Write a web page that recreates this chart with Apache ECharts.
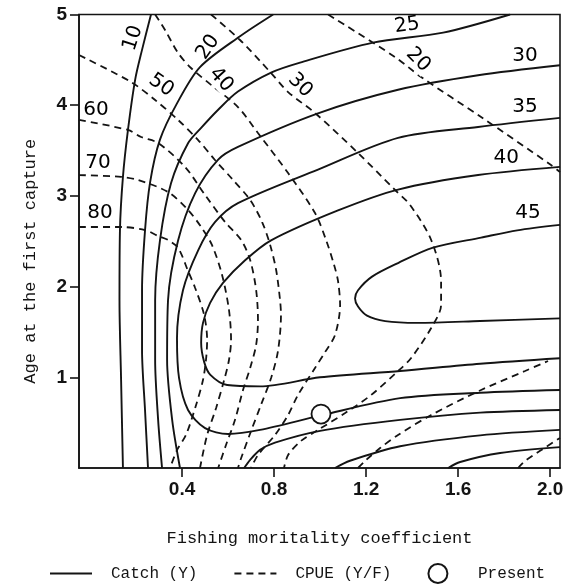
<!DOCTYPE html>
<html><head><meta charset="utf-8">
<script src="https://cdn.jsdelivr.net/npm/echarts@6/dist/echarts.min.js"></script>
<style>html,body{margin:0;padding:0;background:#fff}#c{width:576px;height:584px}</style>
</head><body><div id="c"></div>
<script>
// ---- data: [fishing mortality F, age at first capture] ----
const xTicks = [0.4, 0.8, 1.2, 1.6, 2.0];
const yTicks = [1, 2, 3, 4, 5];

// Catch (Y) isopleths
const catch10 = [[0.265,5.0],[0.226,4.61],[0.196,4.28],[0.165,3.73],[0.143,3.21],[0.130,2.62],[0.128,1.85],[0.135,0.97],[0.143,0]];
const catch20 = [[0.796,5.0],[0.652,4.76],[0.478,4.42],[0.378,4.02],[0.304,3.62],[0.261,3.15],[0.239,2.62],[0.226,1.96],[0.226,1.30],[0.239,0.64],[0.252,0]];
const catch25 = [[1.826,5.0],[1.535,4.80],[1.230,4.69],[0.913,4.47],[0.787,4.36],[0.643,4.15],[0.557,3.95],[0.483,3.75],[0.426,3.58],[0.352,3.14],[0.304,2.51],[0.283,1.85],[0.283,1.19],[0.296,0.53],[0.313,0]];
const catch30 = [[2.043,4.44],[1.687,4.33],[1.339,4.17],[0.991,3.91],[0.643,3.54],[0.557,3.40],[0.457,3.03],[0.383,2.51],[0.339,1.85],[0.335,1.19],[0.357,0.53],[0.391,0]];
const catch35 = [[2.043,3.86],[1.687,3.76],[1.339,3.64],[0.991,3.29],[0.643,2.92],[0.543,2.71],[0.470,2.40],[0.404,1.96],[0.378,1.43],[0.387,0.99],[0.426,0.64],[0.5,0.44],[0.6,0.375],[0.739,0.42],[1.004,0.58],[1.348,0.77],[1.696,0.83],[2.043,0.86]];
const catch40 = [[2.043,3.32],[1.687,3.23],[1.339,3.07],[1.078,2.84],[0.787,2.51],[0.674,2.29],[0.578,2.04],[0.522,1.82],[0.491,1.60],[0.483,1.38],[0.496,1.17],[0.522,1.03],[0.596,0.915],[0.739,0.90],[1.0,1.0],[1.348,1.07],[1.696,1.15],[2.043,1.21]];
const catch45 = [[2.043,2.68],[1.857,2.62],[1.70,2.54],[1.491,2.43],[1.339,2.26],[1.226,2.11],[1.165,1.96],[1.152,1.87],[1.165,1.78],[1.204,1.68],[1.283,1.62],[1.422,1.60],[1.696,1.62],[2.043,1.65]];
const catch30Low = [[0.670,0],[0.696,0.09],[0.739,0.20],[0.804,0.28],[1.0,0.41],[1.348,0.53],[1.696,0.61],[2.043,0.64]];
const catch25Low = [[1.065,0],[1.13,0.08],[1.348,0.24],[1.696,0.36],[2.043,0.42]];
const catch20Low = [[1.557,0],[1.609,0.066],[1.783,0.165],[2.043,0.23]];

// CPUE (Y/F) isopleths
const cpue80 = [[-0.048,2.657],[0.135,2.657],[0.239,2.624],[0.296,2.558],[0.339,2.514],[0.383,2.426],[0.426,2.172],[0.457,1.985],[0.496,1.687],[0.509,1.411],[0.504,1.191],[0.491,0.970],[0.461,0.695],[0.417,0.364],[0.378,0.198],[0.348,0]];
const cpue70 = [[-0.048,3.23],[0.135,3.21],[0.209,3.175],[0.339,3.043],[0.426,2.845],[0.483,2.657],[0.530,2.459],[0.574,2.128],[0.604,1.742],[0.613,1.411],[0.604,1.191],[0.583,0.970],[0.548,0.662],[0.509,0.364],[0.478,0]];
const cpue60 = [[-0.048,3.837],[0.165,3.727],[0.222,3.649],[0.296,3.583],[0.413,3.319],[0.5,3.01],[0.587,2.712],[0.657,2.514],[0.696,2.293],[0.722,1.963],[0.730,1.632],[0.722,1.356],[0.696,1.103],[0.665,0.860],[0.630,0.529],[0.591,0.254],[0.557,0]];
const cpue50 = [[-0.048,4.553],[0.178,4.256],[0.283,4.057],[0.383,3.837],[0.470,3.616],[0.543,3.396],[0.622,3.175],[0.696,2.955],[0.748,2.712],[0.783,2.459],[0.809,2.183],[0.826,1.852],[0.830,1.687],[0.817,1.290],[0.787,0.992],[0.743,0.695],[0.700,0.408],[0.657,0.110],[0.643,0]];
const cpue40 = [[0.283,5.0],[0.326,4.829],[0.383,4.575],[0.439,4.410],[0.543,4.190],[0.643,3.98],[0.730,3.693],[0.861,3.252],[0.978,2.811],[1.026,2.514],[1.061,2.238],[1.078,2.062],[1.087,1.797],[1.065,1.466],[1.022,1.279],[0.978,1.103],[0.904,0.805],[0.861,0.584],[0.804,0.364],[0.730,0.143],[0.700,0]];
const cpue30 = [[0.526,5.0],[0.652,4.719],[0.787,4.355],[0.861,4.145],[0.978,3.914],[1.165,3.473],[1.326,3.065],[1.391,2.900],[1.483,2.514],[1.526,2.062],[1.526,1.797],[1.483,1.544],[1.396,1.213],[1.339,1.069],[1.222,0.805],[1.109,0.606],[0.991,0.419],[0.917,0.298],[0.861,0.143],[0.843,0]];
const cpue20 = [[1.035,5.0],[1.326,4.531],[1.439,4.311],[1.70,3.870],[2.004,3.341],[2.043,3.263]];
const cpue20Low = [[1.165,0],[1.2,0.088],[1.261,0.22],[1.339,0.364],[1.483,0.584],[1.70,0.86],[1.891,1.069],[1.991,1.18]];
const cpue10 = [[1.861,0],[1.891,0.077],[2.043,0.331]];

// present state
const present = [[1.004, 0.595]];

// contour value labels: [text, F, age, angle]
const catchLabels = [['10',0.187,4.74,72],['20',0.513,4.64,55],['25',1.378,4.88,8],['30',1.891,4.55,0],['35',1.891,3.98,0],['40',1.809,3.42,0],['45',1.904,2.81,0]];
const cpueLabels = [['50',0.309,4.22,-35],['40',0.57,4.28,-48],['30',0.913,4.22,-45],['20',1.426,4.50,-45],['60',0.026,3.95,0],['70',0.035,3.36,0],['80',0.043,2.81,0]];

// ---- chart ----
const ink = '#141414';
const mono = '"Liberation Mono","DejaVu Sans Mono",monospace';
const sans = '"Liberation Sans",Arial,sans-serif';
const labelFont = '"DejaVu Sans","Liberation Sans",sans-serif';
const solidStyle = {color: ink, width: 1.9, type: 'solid'};
const dashStyle = {color: ink, width: 1.8, type: [7, 5]};

function line(name, data, style) {
  return {type: 'line', name: name, data: data, symbol: 'none', showSymbol: false,
    smooth: 0.3, lineStyle: style, itemStyle: {color: ink}, clip: true, silent: true, z: 2};
}
function labelSeries(list, boxed) {
  return {type: 'scatter', symbolSize: 1, silent: true, z: 5,
    itemStyle: {color: 'rgba(0,0,0,0)', opacity: 1},
    data: list.map(l => ({name: l[0], value: [l[1], l[2]],
      label: {show: true, position: 'inside', formatter: l[0], rotate: l[3], opacity: 1,
        fontFamily: labelFont, fontSize: 20, color: '#000',
        backgroundColor: boxed && l[3] !== 0 ? '#fff' : 'transparent', padding: [0, 1]}}))};
}

const series = [
  line('Catch (Y)', catch10, solidStyle), line('Catch (Y)', catch20, solidStyle),
  line('Catch (Y)', catch25, solidStyle), line('Catch (Y)', catch30, solidStyle),
  line('Catch (Y)', catch35, solidStyle), line('Catch (Y)', catch40, solidStyle),
  line('Catch (Y)', catch45, solidStyle), line('Catch (Y)', catch30Low, solidStyle),
  line('Catch (Y)', catch25Low, solidStyle), line('Catch (Y)', catch20Low, solidStyle),
  line('CPUE (Y/F)', cpue80, dashStyle), line('CPUE (Y/F)', cpue70, dashStyle),
  line('CPUE (Y/F)', cpue60, dashStyle), line('CPUE (Y/F)', cpue50, dashStyle),
  line('CPUE (Y/F)', cpue40, dashStyle), line('CPUE (Y/F)', cpue30, dashStyle),
  line('CPUE (Y/F)', cpue20, dashStyle), line('CPUE (Y/F)', cpue20Low, dashStyle),
  line('CPUE (Y/F)', cpue10, dashStyle),
  {type: 'scatter', name: 'Present', data: present, symbol: 'circle', symbolSize: 19, z: 6,
    itemStyle: {color: '#fff', borderColor: ink, borderWidth: 1.8, opacity: 1}},
  labelSeries(catchLabels, false), labelSeries(cpueLabels, true)
];

const hidden = {color: 'rgba(0,0,0,0)', borderColor: 'rgba(0,0,0,0)', borderWidth: 0, opacity: 0};
const chart = echarts.init(document.getElementById('c'), null, {renderer: 'canvas'});
chart.setOption({
  animation: false,
  backgroundColor: '#fff',
  grid: {left: 79, right: 16, top: 14.5, bottom: 116, show: true, borderColor: ink, borderWidth: 1.6},
  xAxis: {type: 'value', min: -0.048, max: 2.043,
    axisLine: {show: true, onZero: false, lineStyle: {color: ink, width: 1.6}},
    axisTick: {show: true, customValues: xTicks, length: 9, lineStyle: {color: ink, width: 1.6}},
    axisLabel: {customValues: xTicks, formatter: v => v.toFixed(1), fontFamily: sans, fontSize: 19,
      fontWeight: 'bold', color: ink, margin: 12},
    splitLine: {show: false},
    name: 'Fishing moritality coefficient', nameLocation: 'middle', nameGap: 62,
    nameTextStyle: {fontFamily: mono, fontSize: 17, color: ink}},
  yAxis: {type: 'value', min: 0, max: 5,
    axisLine: {show: true, onZero: false, lineStyle: {color: ink, width: 1.6}},
    axisTick: {show: true, customValues: yTicks, length: 9, lineStyle: {color: ink, width: 1.6}},
    axisLabel: {customValues: yTicks, fontFamily: sans, fontSize: 19, fontWeight: 'bold', color: ink, margin: 12},
    splitLine: {show: false},
    name: 'Age at the first capture', nameLocation: 'middle', nameGap: 40,
    nameTextStyle: {fontFamily: mono, fontSize: 17, color: ink, padding: [0, 40, 0, 0]}},
  legend: {data: [{name: 'Catch (Y)', itemStyle: hidden}, {name: 'CPUE (Y/F)', itemStyle: hidden}, 'Present'],
    left: 44, top: 558, itemWidth: 42, itemHeight: 19,
    itemGap: 36, selectedMode: false,
    textStyle: {fontFamily: mono, fontSize: 16, color: ink, padding: [0, 0, 0, 14]}},
  series: series
});
</script></body></html>
